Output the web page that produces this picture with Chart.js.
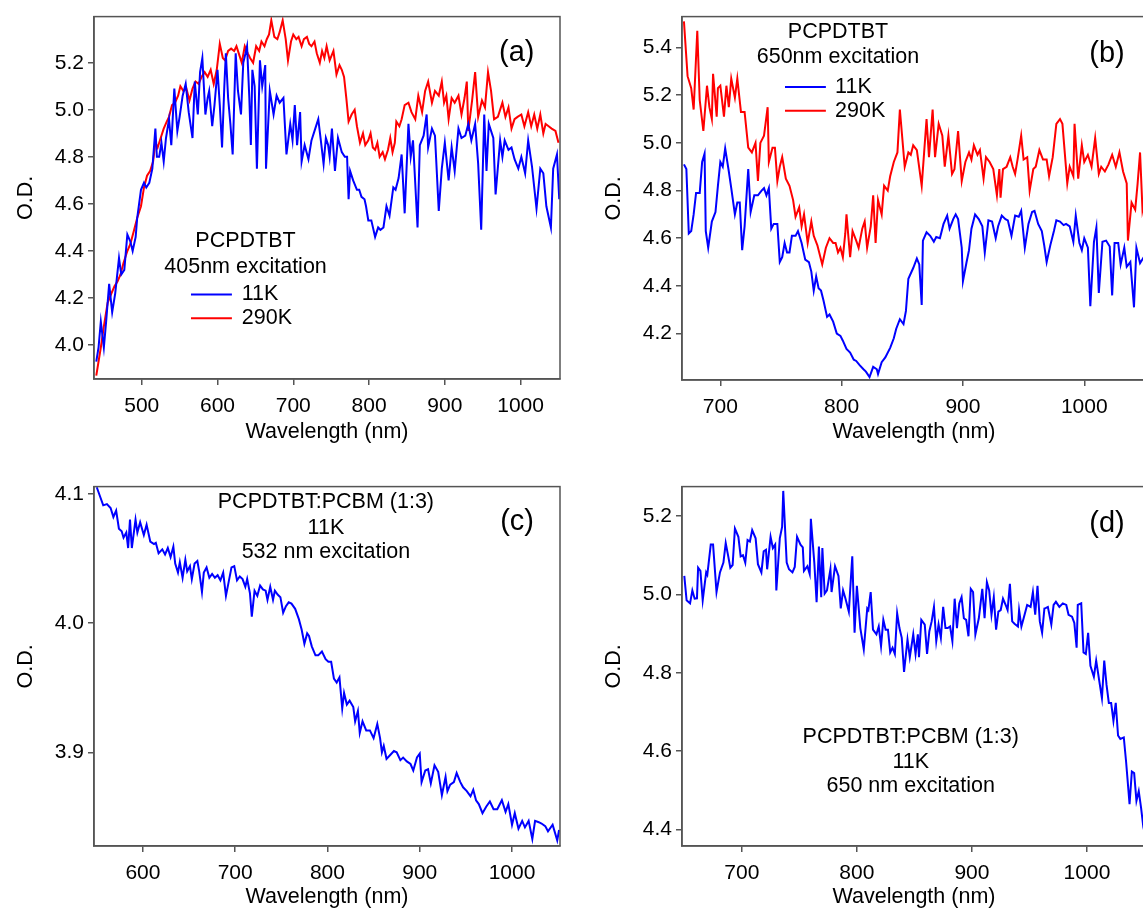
<!DOCTYPE html>
<html lang="en">
<head>
  <meta charset="UTF-8">
  <title>PCPDTBT transient absorption spectra</title>
  <script src="https://cdn.jsdelivr.net/npm/chart.js"></script>
  <style>
    html, body { margin: 0; padding: 0; background: #fff; width: 1143px; height: 909px; overflow: hidden; }
    canvas { position: absolute; }
  </style>
</head>
<body>
  <canvas id="chartA" width="570" height="445" style="left:0;top:0"></canvas>
  <canvas id="chartB" width="570" height="445" style="left:588px;top:0"></canvas>
  <canvas id="chartC" width="570" height="440" style="left:0;top:470px"></canvas>
  <canvas id="chartD" width="570" height="440" style="left:588px;top:470px"></canvas>

  <script>
    // (a) PCPDTBT, 405nm excitation
    const aWave290K = [440,446,450,455,460,464,468,472,476,481,485,490,494,499,503,507,511,515,518,521,525,529,533,536,540,544,548,551,555,559,563,567,571,575,579,583,587,591,595,599,603,607,610,614,618,622,625,629,632,636,640,643,647,651,655,658,662,665,668,671,675,679,682,686,690,693,697,700,704,707,711,714,718,721,724,728,731,735,738,741,744,748,753,757,761,764,767,770,773,777,781,784,788,792,795,799,802,805,808,811,814,818,821,825,828,831,834,836,840,843,847,852,856,861,865,870,874,878,883,887,892,896,899,902,905,909,913,918,922,926,929,931,936,940,944,949,953,957,961,965,970,976,980,984,988,992,996,1001,1005,1010,1014,1018,1022,1026,1030,1033,1037,1041,1046,1050];
    const aOD290K = [3.87,3.99,4.08,4.18,4.22,4.25,4.27,4.30,4.35,4.40,4.43,4.49,4.54,4.59,4.67,4.72,4.74,4.78,4.86,4.84,4.88,4.92,4.95,4.97,5.02,5.03,5.06,5.10,5.08,5.09,5.04,5.09,5.12,5.11,5.14,5.16,5.14,5.17,5.11,5.17,5.28,5.22,5.21,5.25,5.26,5.25,5.27,5.23,5.20,5.27,5.24,5.22,5.20,5.27,5.25,5.29,5.27,5.30,5.32,5.38,5.31,5.30,5.33,5.38,5.30,5.21,5.29,5.32,5.30,5.31,5.27,5.30,5.31,5.28,5.27,5.29,5.24,5.20,5.25,5.22,5.27,5.21,5.25,5.15,5.19,5.17,5.14,5.05,4.95,4.98,5.00,4.93,4.86,4.90,4.85,4.87,4.90,4.84,4.83,4.86,4.80,4.82,4.79,4.83,4.88,4.82,4.86,4.95,4.93,4.96,5.02,5.03,4.99,4.96,5.06,4.99,5.08,5.12,5.03,5.08,5.06,5.12,5.03,5.06,4.96,5.05,5.03,5.06,4.98,5.05,5.12,4.91,5.04,5.16,4.97,5.04,5.01,5.16,5.08,4.96,4.97,5.03,4.97,5.01,4.92,4.96,4.97,4.98,4.93,4.99,4.93,4.98,4.92,4.98,4.90,4.94,4.93,4.92,4.91,4.86];
    const aWave11K = [440,443,446,450,453,457,461,465,470,473,477,481,485,488,492,494,499,503,506,510,514,518,520,523,526,529,532,536,539,543,547,550,554,558,562,567,570,574,577,580,584,587,589,593,596,600,603,606,609,611,614,617,620,624,627,631,634,637,639,642,644,646,649,652,656,659,663,664,669,674,678,682,687,691,696,699,702,705,709,711,715,720,724,729,733,736,740,743,746,748,751,755,759,764,768,771,773,775,779,784,787,790,794,796,799,803,808,812,815,819,823,827,832,835,839,843,847,852,855,858,864,867,872,876,878,883,887,892,896,900,905,909,913,918,922,927,931,935,940,944,948,952,955,958,964,967,973,976,979,984,988,992,997,1001,1006,1010,1015,1021,1026,1030,1034,1040,1043,1048,1051];
    const aOD11K = [3.93,3.99,4.10,3.99,4.10,4.26,4.14,4.22,4.37,4.30,4.32,4.47,4.44,4.40,4.46,4.54,4.66,4.69,4.67,4.69,4.75,4.92,4.80,4.80,4.86,4.78,4.88,4.96,4.85,5.09,4.91,4.97,5.06,5.11,4.99,4.88,5.12,4.98,5.16,5.22,4.98,5.05,5.08,4.93,5.02,5.17,5.02,4.84,5.10,5.24,5.05,4.94,4.81,5.24,5.08,4.98,5.20,5.24,5.27,5.05,4.85,5.17,5.10,4.75,5.21,5.10,5.19,4.75,5.08,4.98,5.06,5.03,5.05,4.81,4.94,4.87,5.02,4.85,4.99,4.78,4.85,4.79,4.87,4.92,4.96,4.88,4.77,4.88,4.85,4.80,4.92,4.74,4.88,4.82,4.80,4.80,4.62,4.74,4.70,4.66,4.66,4.63,4.62,4.59,4.53,4.53,4.46,4.50,4.49,4.50,4.59,4.55,4.67,4.66,4.71,4.81,4.56,4.94,4.80,4.87,4.50,4.85,4.89,4.98,4.84,4.92,4.89,4.57,4.75,4.86,4.70,4.84,4.74,4.92,4.88,4.89,4.94,4.87,4.94,4.77,4.49,4.98,4.74,4.94,4.88,4.64,4.87,4.80,4.87,4.83,4.84,4.79,4.75,4.80,4.73,4.87,4.76,4.58,4.75,4.73,4.59,4.50,4.75,4.81,4.62];

    // (b) PCPDTBT, 650nm excitation
    const bWave290K = [670,673,676,678,681,683,686,689,691,693,694,697,698,700,703,705,707,709,712,714,717,720,723,726,729,731,733,736,739,740,743,745,747,749,751,754,757,760,762,765,767,769,772,775,777,780,784,787,790,793,795,797,799,801,803,804,807,809,812,814,817,819,821,824,826,828,830,833,835,838,840,843,846,848,852,855,857,859,862,866,870,872,875,877,880,883,885,888,891,893,896,899,902,905,907,909,912,914,917,919,922,925,928,930,931,933,936,939,941,943,945,948,950,953,955,958,960,963,966,969,971,974,977,980,982,986,988,991,992,995,998,1000,1003,1006,1009,1012,1014,1017,1020,1023,1026,1029,1032,1035,1036,1039,1042,1044,1046,1048,1051];
    const bOD290K = [5.51,5.28,5.23,5.14,5.47,5.18,5.05,5.24,5.15,5.10,5.29,5.11,5.23,5.24,5.11,5.24,5.15,5.27,5.19,5.27,5.13,5.13,4.98,4.96,5.00,4.84,5.00,5.03,5.15,4.92,4.98,4.98,4.84,4.90,4.94,4.85,4.82,4.76,4.69,4.73,4.65,4.70,4.58,4.67,4.61,4.57,4.49,4.56,4.60,4.58,4.58,4.54,4.56,4.52,4.62,4.70,4.52,4.63,4.59,4.56,4.64,4.67,4.56,4.65,4.78,4.58,4.76,4.70,4.82,4.80,4.86,4.92,4.96,5.14,4.90,4.96,4.95,4.99,4.97,4.82,5.10,4.94,5.14,4.94,5.08,5.03,4.90,5.03,4.87,4.89,5.05,4.84,4.92,4.96,4.93,4.99,4.95,4.97,4.85,4.94,4.92,4.89,4.78,4.89,4.77,4.89,4.90,4.94,4.90,4.87,4.93,5.03,4.93,4.94,4.80,4.89,4.90,4.97,4.93,4.93,4.86,4.94,5.08,5.10,5.08,4.83,4.90,4.86,5.08,4.85,4.99,4.92,4.95,4.90,5.02,4.87,4.90,4.88,4.91,4.95,4.90,4.96,4.88,4.83,4.59,4.75,4.72,4.83,4.96,4.72,4.80];
    const bWave11K = [670,672,674,676,678,680,683,685,687,688,690,693,696,698,700,702,704,707,709,712,714,716,718,720,723,725,728,731,734,736,738,740,742,744,747,749,751,753,755,757,759,762,764,767,770,773,775,777,779,781,783,785,788,790,793,796,799,801,804,807,810,812,815,818,820,823,826,829,830,833,836,840,843,845,848,851,853,855,859,862,864,866,867,870,873,876,878,881,884,887,889,892,894,896,899,900,903,905,907,910,913,916,918,921,924,927,929,932,935,937,940,943,946,948,951,954,957,959,962,965,967,969,972,975,977,980,983,985,988,991,993,996,998,1000,1003,1005,1008,1010,1012,1015,1018,1021,1023,1025,1028,1030,1033,1035,1038,1041,1043,1046,1049];
    const bOD11K = [4.91,4.89,4.62,4.63,4.70,4.79,4.79,4.92,4.955,4.63,4.56,4.67,4.71,4.82,4.92,4.90,4.977,4.88,4.81,4.70,4.75,4.75,4.55,4.65,4.89,4.71,4.78,4.78,4.80,4.81,4.78,4.81,4.64,4.66,4.66,4.50,4.52,4.58,4.54,4.54,4.61,4.61,4.63,4.58,4.51,4.50,4.46,4.38,4.44,4.39,4.38,4.34,4.27,4.28,4.25,4.20,4.19,4.17,4.135,4.12,4.09,4.085,4.066,4.05,4.04,4.017,4.06,4.05,4.03,4.08,4.10,4.14,4.18,4.22,4.26,4.24,4.295,4.43,4.475,4.515,4.49,4.32,4.59,4.625,4.61,4.585,4.605,4.60,4.66,4.695,4.64,4.68,4.70,4.68,4.56,4.42,4.50,4.55,4.64,4.70,4.68,4.65,4.54,4.675,4.67,4.60,4.65,4.695,4.68,4.675,4.61,4.695,4.69,4.715,4.56,4.66,4.71,4.715,4.66,4.63,4.57,4.50,4.57,4.63,4.675,4.67,4.655,4.66,4.65,4.585,4.695,4.58,4.55,4.60,4.56,4.315,4.585,4.645,4.37,4.585,4.59,4.565,4.36,4.58,4.58,4.49,4.56,4.48,4.50,4.31,4.56,4.495,4.52];

    // (c) PCPDTBT:PCBM (1:3), 11K, 532 nm excitation
    const cWave = [550,553,557,561,565,568,571,574,577,579,582,584,586,588,592,594,597,601,604,608,612,614,617,621,624,627,630,633,635,638,640,643,646,648,651,653,656,659,661,664,666,669,672,675,678,681,684,687,690,693,696,699,702,705,708,711,713,716,718,721,724,727,730,733,735,738,741,743,746,749,752,755,758,761,765,769,772,775,778,780,783,787,790,794,798,801,804,807,810,813,816,818,821,824,828,830,833,835,838,842,846,850,854,857,859,861,864,868,872,875,879,882,886,890,893,897,900,902,906,909,912,916,920,924,928,930,933,937,940,944,947,951,955,958,961,964,968,972,976,980,984,989,993,996,1000,1003,1007,1011,1014,1018,1022,1025,1029,1032,1036,1039,1044,1049,1051];
    const cOD = [4.105,4.099,4.091,4.092,4.089,4.082,4.087,4.073,4.071,4.066,4.070,4.058,4.080,4.058,4.080,4.070,4.078,4.068,4.076,4.063,4.061,4.062,4.054,4.057,4.053,4.058,4.051,4.059,4.046,4.039,4.047,4.035,4.049,4.040,4.044,4.034,4.046,4.048,4.040,4.024,4.039,4.043,4.035,4.038,4.035,4.037,4.033,4.039,4.021,4.032,4.043,4.044,4.033,4.036,4.034,4.028,4.034,4.023,4.005,4.025,4.021,4.029,4.026,4.025,4.018,4.028,4.018,4.025,4.022,4.020,4.008,4.013,4.016,4.015,4.011,4.003,3.995,3.984,3.992,3.990,3.982,3.975,3.975,3.978,3.972,3.970,3.970,3.957,3.954,3.958,3.934,3.946,3.937,3.940,3.935,3.924,3.932,3.915,3.924,3.917,3.917,3.911,3.922,3.911,3.900,3.905,3.895,3.898,3.901,3.900,3.894,3.896,3.893,3.891,3.886,3.896,3.899,3.877,3.886,3.887,3.876,3.890,3.885,3.867,3.881,3.870,3.875,3.877,3.884,3.877,3.873,3.870,3.866,3.871,3.863,3.860,3.853,3.858,3.862,3.856,3.856,3.863,3.854,3.860,3.844,3.853,3.841,3.847,3.842,3.847,3.833,3.847,3.846,3.845,3.843,3.839,3.844,3.832,3.840];

    // (d) PCPDTBT:PCBM (1:3), 11K, 650 nm excitation
    const dWave = [650,652,655,657,659,661,662,664,666,669,670,673,675,678,681,684,686,688,690,692,694,697,699,701,703,705,707,709,712,714,717,719,721,722,725,727,729,730,733,735,736,739,741,744,746,748,751,753,754,757,759,760,763,765,767,769,770,772,774,777,778,781,784,786,788,790,793,796,798,800,803,806,809,810,812,814,817,819,821,823,825,827,829,831,833,835,837,839,841,844,846,849,851,853,854,856,859,861,863,865,867,869,871,873,875,877,879,881,883,885,887,889,891,893,895,897,899,901,903,906,908,909,911,913,915,917,919,921,923,925,927,930,931,933,935,937,940,941,943,945,948,951,953,955,957,959,961,963,964,966,969,971,973,976,979,982,984,987,989,991,992,995,997,999,1001,1003,1006,1008,1011,1013,1015,1017,1019,1021,1023,1025,1027,1029,1032,1034,1037,1039,1041,1043,1045,1047,1049,1051];
    const dOD = [5.047,4.985,4.977,5.010,4.989,4.990,5.068,5.060,4.985,5.056,5.050,5.127,5.127,5.006,5.056,5.081,5.131,5.100,5.068,5.075,5.168,5.147,5.097,5.100,5.081,5.139,5.135,5.164,5.143,5.077,5.056,5.110,5.114,5.064,5.147,5.118,5.127,5.010,5.143,5.172,5.264,5.081,5.064,5.056,5.070,5.147,5.127,5.120,5.060,5.072,5.052,5.193,5.081,4.980,5.122,4.993,5.118,5.002,5.010,5.064,5.006,5.072,5.047,4.964,5.010,4.990,4.956,5.097,4.902,5.022,4.914,4.860,4.964,4.960,5.006,4.910,4.898,4.918,4.868,4.935,4.910,4.910,4.852,4.864,4.848,4.952,4.914,4.889,4.802,4.885,4.840,4.898,4.848,4.898,4.840,4.935,4.923,4.848,4.906,4.931,4.968,4.881,4.923,4.889,4.968,4.914,4.914,4.918,4.881,4.989,4.914,4.977,4.993,4.939,4.935,4.893,5.014,5.006,4.898,4.939,4.989,5.014,4.939,5.031,5.010,4.948,4.993,4.910,4.956,4.960,4.989,4.968,4.960,5.027,4.931,4.925,4.918,4.960,4.918,4.940,4.973,4.968,5.006,4.948,5.022,4.931,4.902,4.964,4.965,4.968,4.923,4.973,4.981,4.968,4.977,4.973,4.948,4.943,4.927,4.864,4.973,4.977,4.852,4.848,4.902,4.818,4.790,4.831,4.773,4.735,4.831,4.769,4.723,4.723,4.677,4.723,4.640,4.631,4.635,4.573,4.465,4.548,4.544,4.473,4.498,4.456,4.406,4.380];

    // tick values
    const aTicksX = [500, 600, 700, 800, 900, 1000];
    const aTicksY = [4.0, 4.2, 4.4, 4.6, 4.8, 5.0, 5.2];
    const bTicksX = [700, 800, 900, 1000];
    const bTicksY = [4.2, 4.4, 4.6, 4.8, 5.0, 5.2, 5.4];
    const cTicksX = [600, 700, 800, 900, 1000];
    const cTicksY = [3.9, 4.0, 4.1];
    const dTicksX = [700, 800, 900, 1000];
    const dTicksY = [4.4, 4.6, 4.8, 5.0, 5.2];

    const BLUE = '#0000ff';
    const RED = '#ff0000';
    const AXIS = '#555';
    const FAMILY = '"Liberation Sans", Arial, sans-serif';
    const tickFont = { family: FAMILY, size: 21 };
    const titleFont = { family: FAMILY, size: 21.5 };

    const zip = (xs, ys) => xs.map((x, i) => ({ x: x, y: ys[i] }));

    // frame + in-plot text, positioned in data units
    function notesPlugin(notes) {
      return {
        id: 'notes',
        afterDatasetsDraw(chart) {
          const { ctx, chartArea: ca, scales } = chart;
          ctx.save();
          ctx.strokeStyle = AXIS;
          ctx.lineWidth = 1.5;
          ctx.strokeRect(ca.left, ca.top, ca.right - ca.left, ca.bottom - ca.top);
          ctx.fillStyle = '#000';
          ctx.textBaseline = 'middle';
          notes.forEach(n => {
            const px = scales.x.getPixelForValue(n.x);
            const py = scales.y.getPixelForValue(n.y);
            if (n.line) {
              ctx.strokeStyle = n.line;
              ctx.lineWidth = 2;
              ctx.beginPath();
              ctx.moveTo(px, py);
              ctx.lineTo(scales.x.getPixelForValue(n.x2), py);
              ctx.stroke();
              return;
            }
            ctx.font = (n.size || 21.5) + 'px ' + FAMILY;
            ctx.textAlign = n.align || 'center';
            ctx.fillText(n.text, px, py);
          });
          ctx.restore();
        }
      };
    }

    function panel(id, series, ax, notes) {
      new Chart(document.getElementById(id), {
        type: 'line',
        data: {
          datasets: series.map(s => ({
            data: zip(s.x, s.y),
            borderColor: s.color,
            borderWidth: 2,
            pointRadius: 0,
            tension: 0,
            fill: false
          }))
        },
        options: {
          responsive: false,
          animation: false,
          devicePixelRatio: 1,
          layout: { padding: { top: ax.top, right: ax.right, left: 0, bottom: 0 } },
          plugins: { legend: { display: false }, tooltip: { enabled: false } },
          scales: {
            x: {
              type: 'linear',
              min: ax.xmin,
              max: ax.xmax,
              afterBuildTicks: s => { s.ticks = ax.ticksX.map(v => ({ value: v })); },
              afterFit: s => { s.height = ax.xh; },
              ticks: { font: tickFont, color: '#000', padding: 9, autoSkip: false, maxRotation: 0, callback: v => String(v) },
              grid: { drawOnChartArea: false, tickLength: 6, color: AXIS, lineWidth: 1.5 },
              border: { color: AXIS, width: 1.5 },
              title: { display: true, text: 'Wavelength (nm)', font: titleFont, color: '#000', padding: { top: 0, bottom: 0 } }
            },
            y: {
              type: 'linear',
              min: ax.ymin,
              max: ax.ymax,
              afterBuildTicks: s => { s.ticks = ax.ticksY.map(v => ({ value: v })); },
              afterFit: s => { s.width = 94; },
              ticks: { font: tickFont, color: '#000', padding: 4, autoSkip: false, callback: v => v.toFixed(1) },
              grid: { drawOnChartArea: false, tickLength: 6, color: AXIS, lineWidth: 1.5 },
              border: { color: AXIS, width: 1.5 },
              title: { display: true, text: 'O.D.', font: titleFont, color: '#000', padding: { top: 13, bottom: 0 } }
            }
          }
        },
        plugins: [notesPlugin(notes)]
      });
    }

    panel('chartA',
      [{ x: aWave11K, y: aOD11K, color: BLUE }, { x: aWave290K, y: aOD290K, color: RED }],
      { xmin: 437, xmax: 1052, ymin: 3.856, ymax: 5.396, ticksX: aTicksX, ticksY: aTicksY, top: 12, right: 10, xh: 66 },
      [
        { text: '(a)', x: 995, y: 5.24, size: 29 },
        { text: 'PCPDTBT', x: 637, y: 4.441 },
        { text: '405nm excitation', x: 637, y: 4.332 },
        { line: BLUE, x: 565, x2: 619, y: 4.215 },
        { line: RED, x: 565, x2: 619, y: 4.114 },
        { text: '11K', x: 632, y: 4.215, align: 'left' },
        { text: '290K', x: 632, y: 4.114, align: 'left' }
      ]);

    panel('chartB',
      [{ x: bWave11K, y: bOD11K, color: BLUE }, { x: bWave290K, y: bOD290K, color: RED }],
      { xmin: 668.4, xmax: 1050.9, ymin: 4.005, ymax: 5.53, ticksX: bTicksX, ticksY: bTicksY, top: 12, right: 12, xh: 65 },
      [
        { text: '(b)', x: 1018.8, y: 5.371, size: 29 },
        { text: 'PCPDTBT', x: 797, y: 5.467 },
        { text: '650nm excitation', x: 797, y: 5.359 },
        { line: BLUE, x: 753.3, x2: 787, y: 5.235 },
        { line: RED, x: 753.3, x2: 787, y: 5.135 },
        { text: '11K', x: 794.6, y: 5.235, align: 'left' },
        { text: '290K', x: 794.6, y: 5.135, align: 'left' }
      ]);

    panel('chartC',
      [{ x: cWave, y: cOD, color: BLUE }],
      { xmin: 547, xmax: 1052, ymin: 3.8276, ymax: 4.1055, ticksX: cTicksX, ticksY: cTicksY, top: 10, right: 10, xh: 64 },
      [
        { text: '(c)', x: 1005.5, y: 4.078, size: 29 },
        { text: 'PCPDTBT:PCBM (1:3)', x: 798.3, y: 4.0934 },
        { text: '11K', x: 798.3, y: 4.0737 },
        { text: '532 nm excitation', x: 798.3, y: 4.0547 }
      ]);

    panel('chartD',
      [{ x: dWave, y: dOD, color: BLUE }],
      { xmin: 648, xmax: 1051.3, ymin: 4.358, ymax: 5.275, ticksX: dTicksX, ticksY: dTicksY, top: 9, right: 12, xh: 64 },
      [
        { text: '(d)', x: 1017.4, y: 5.18, size: 29 },
        { text: 'PCPDTBT:PCBM (1:3)', x: 846.8, y: 4.6355 },
        { text: '11K', x: 846.8, y: 4.573 },
        { text: '650 nm excitation', x: 846.8, y: 4.511 }
      ]);
  </script>
</body>
</html>
